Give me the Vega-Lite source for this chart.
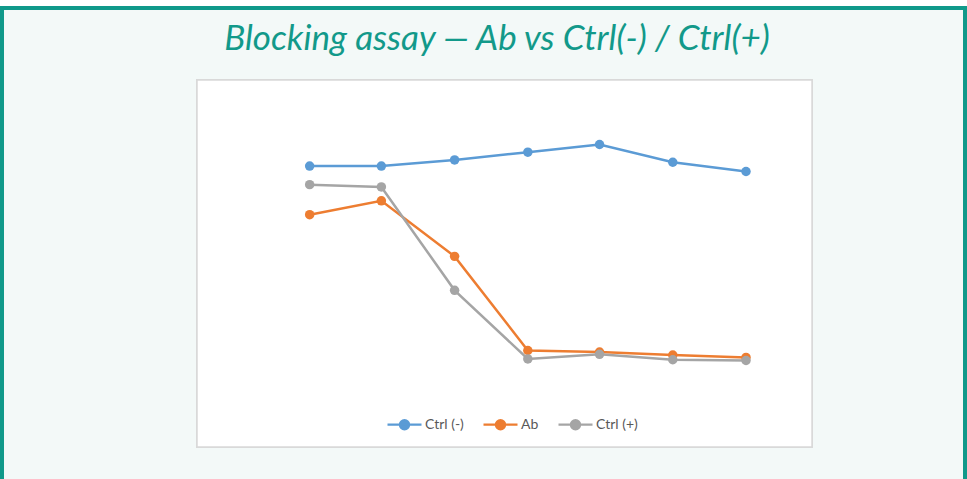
{
  "$schema": "https://vega.github.io/schema/vega-lite/v6.json",
  "width": 534,
  "height": 270,
  "autosize": {"type": "none"},
  "padding": {"left": 241, "top": 99, "right": 192, "bottom": 110},
  "background": "white",
  "config": {
    "view": {"stroke": null},
    "font": "Lato"
  },
  "title": {
    "text": "Blocking assay — Ab vs Ctrl(-) / Ctrl(+)",
    "font": "Lato",
    "fontSize": 35,
    "fontStyle": "italic",
    "fontWeight": "normal",
    "color": "#12998a",
    "anchor": "middle",
    "frame": "group",
    "baseline": "alphabetic",
    "offset": -79,
    "dx": -11
  },
  "data": {
    "values": [
      {"logdil": -0.55, "series": "Ctrl (-)", "od": 2.63},
      {"logdil": -0.08, "series": "Ctrl (-)", "od": 2.63},
      {"logdil": 0.40, "series": "Ctrl (-)", "od": 2.71},
      {"logdil": 0.88, "series": "Ctrl (-)", "od": 2.81},
      {"logdil": 1.35, "series": "Ctrl (-)", "od": 2.91},
      {"logdil": 1.83, "series": "Ctrl (-)", "od": 2.68},
      {"logdil": 2.31, "series": "Ctrl (-)", "od": 2.56},
      {"logdil": -0.55, "series": "Ab", "od": 2.00},
      {"logdil": -0.08, "series": "Ab", "od": 2.18},
      {"logdil": 0.40, "series": "Ab", "od": 1.46},
      {"logdil": 0.88, "series": "Ab", "od": 0.24},
      {"logdil": 1.35, "series": "Ab", "od": 0.22},
      {"logdil": 1.83, "series": "Ab", "od": 0.18},
      {"logdil": 2.31, "series": "Ab", "od": 0.15},
      {"logdil": -0.55, "series": "Ctrl (+)", "od": 2.39},
      {"logdil": -0.08, "series": "Ctrl (+)", "od": 2.36},
      {"logdil": 0.40, "series": "Ctrl (+)", "od": 1.02},
      {"logdil": 0.88, "series": "Ctrl (+)", "od": 0.13},
      {"logdil": 1.35, "series": "Ctrl (+)", "od": 0.19},
      {"logdil": 1.83, "series": "Ctrl (+)", "od": 0.12},
      {"logdil": 2.31, "series": "Ctrl (+)", "od": 0.11}
    ]
  },
  "layer": [
    {
      "mark": {"type": "rect", "clip": false, "fill": "#f3f9f8", "stroke": "#10998a", "strokeWidth": 4},
      "encoding": {
        "x": {"datum": -2.5665, "type": "quantitative", "axis": null, "scale": {"domain": [-1, 2.5], "nice": false, "zero": false}},
        "x2": {"datum": 3.7454},
        "y": {"datum": 4.6797, "type": "quantitative", "axis": null, "scale": {"domain": [0, 3.5], "nice": false, "zero": false}},
        "y2": {"datum": -1.452}
      }
    },
    {
      "mark": {"type": "rect", "clip": false, "fill": "white", "stroke": "#d9d9d9", "strokeWidth": 1.5},
      "encoding": {
        "x": {"datum": -1.2884, "type": "quantitative", "axis": null},
        "x2": {"datum": 2.7426},
        "y": {"datum": 3.7463, "type": "quantitative", "axis": null},
        "y2": {"datum": -1.0113}
      }
    },
    {
      "mark": {"type": "line", "strokeWidth": 2.5},
      "encoding": {
        "x": {
          "field": "logdil",
          "type": "quantitative",
          "axis": {
            "title": null,
            "zindex": 1,
            "values": [-1, -0.5, 0, 0.5, 1, 1.5, 2, 2.5],
            "labelExpr": "replace(format(datum.value, '.2f'), '−', '-')",
            "labelOverlap": false,
            "grid": false,
            "ticks": false,
            "domainColor": "#bfbfbf",
            "domainWidth": 1.2,
            "labelColor": "#595959",
            "labelFont": "Lato",
            "labelFontSize": 15,
            "labelFlush": false,
            "labelPadding": 9
          }
        },
        "y": {
          "field": "od",
          "type": "quantitative",
          "axis": {
            "title": null,
            "zindex": 1,
            "values": [0, 0.5, 1, 1.5, 2, 2.5, 3, 3.5],
            "format": "~g",
            "labelOverlap": false,
            "labelSeparation": 0,
            "grid": false,
            "ticks": false,
            "domainColor": "#bfbfbf",
            "domainWidth": 1.2,
            "labelColor": "#595959",
            "labelFont": "Lato",
            "labelFontSize": 15,
            "labelFlush": false,
            "labelPadding": 12
          }
        },
        "color": {
          "field": "series",
          "type": "nominal",
          "sort": ["Ctrl (-)", "Ab", "Ctrl (+)"],
          "scale": {"domain": ["Ctrl (-)", "Ab", "Ctrl (+)"], "range": ["#5b9bd5", "#ed7d31", "#a5a5a5"]},
          "legend": {
            "title": null,
            "orient": "none",
            "direction": "horizontal",
            "legendX": 145,
            "legendY": 307,
            "symbolType": "M-1,0H1M-0.27,0A0.27,0.27 0 1,0 0.27,0A0.27,0.27 0 1,0 -0.27,0Z",
            "symbolSize": 1156,
            "symbolStrokeWidth": 2.25,
            "symbolOpacity": 1,
            "labelFont": "Lato",
            "labelFontSize": 14,
            "labelColor": "#595959",
            "labelOffset": 2,
            "columnPadding": 15,
            "encode": {
              "symbols": {"update": {"fill": {"scale": "color", "field": "value"}, "stroke": {"scale": "color", "field": "value"}}}
            }
          }
        },
        "order": {"field": "logdil", "type": "quantitative"}
      }
    },
    {
      "mark": {"type": "circle", "size": 90, "opacity": 1},
      "encoding": {
        "x": {"field": "logdil", "type": "quantitative", "axis": null},
        "y": {"field": "od", "type": "quantitative", "axis": null},
        "color": {"field": "series", "type": "nominal", "sort": ["Ctrl (-)", "Ab", "Ctrl (+)"]}
      }
    }
  ]
}
